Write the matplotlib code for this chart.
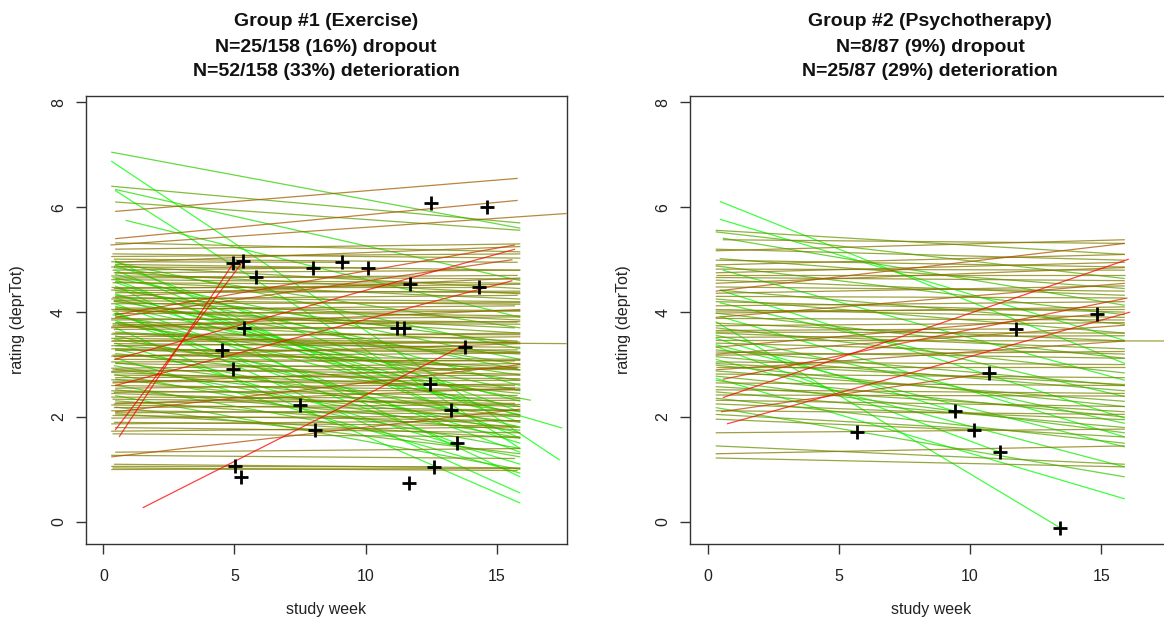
import numpy as np
import matplotlib
matplotlib.use("Agg")
import matplotlib.pyplot as plt

plt.rcParams['font.family'] = ['Liberation Sans', 'DejaVu Sans']

# ---------------- data: Group #1 (Exercise) ----------------
g1_title = ["Group #1 (Exercise)", "N=25/158 (16%) dropout", "N=52/158 (33%) deterioration"]
g1_start_week = [
    0.30, 0.30, 0.30, 0.45, 0.45, 0.45, 0.45, 0.85, 0.45, 0.27, 0.45, 0.45,
    1.50, 0.45, 0.60, 0.45, 0.45, 0.45, 0.45, 0.30, 0.45,
    0.45, 0.45, 0.40, 0.45, 0.45, 0.35, 0.45, 0.45, 0.50, 0.45, 0.45, 0.45, 0.40, 0.45, 0.45, 0.45,
    0.45, 0.35, 0.45, 0.45, 0.45, 0.55, 0.45, 0.45, 0.45, 0.40, 0.45, 0.45, 0.45, 0.45, 0.45, 0.45,
    0.40, 0.45, 0.45, 0.45, 0.45, 0.45, 0.45, 0.45, 0.45, 0.45, 0.45, 0.45, 0.45, 0.45,
    0.30, 0.35, 0.30, 0.40, 0.30, 0.45, 0.35, 0.30, 0.45, 0.30, 0.40, 0.30, 0.35, 0.45, 0.30, 0.40,
    0.30, 0.45, 0.35, 0.30, 0.40, 0.30, 0.45, 0.30, 0.35, 0.30, 0.45, 0.40, 0.30, 0.35, 0.30, 0.45,
    0.30, 0.40, 0.30, 0.35, 0.45, 0.30, 0.30, 0.40, 0.35, 0.30, 0.45, 0.30, 0.40, 0.30, 0.35, 0.45,
    0.30, 0.30, 0.40, 0.35, 0.30, 0.45, 0.30, 0.40, 0.30, 0.35, 0.45, 0.30, 0.40, 0.30, 0.35, 0.30,
    0.45, 0.30, 0.40, 0.35, 0.30, 0.45, 0.30, 0.40, 0.30, 0.35,
    0.45, 0.40, 0.35, 0.45, 0.30, 0.40, 0.45, 0.35, 0.30, 0.45,
    0.40, 0.35, 0.45, 0.30, 0.40, 0.45,
    0.30,
]
g1_start_val = [
    7.05, 6.88, 6.40, 6.34, 6.32, 6.10, 5.92, 5.75, 5.40, 5.28, 5.32, 5.20,
    0.27, 1.75, 1.62, 3.95, 3.90, 3.10, 2.60, 1.24, 2.10,
    4.95, 4.90, 4.85, 4.80, 4.72, 4.66, 4.57, 4.50, 4.46, 4.41, 4.33, 4.27, 4.21, 4.16, 4.11, 4.06,
    4.01, 3.95, 3.91, 3.84, 3.80, 3.76, 3.70, 3.62, 3.55, 3.49, 3.41, 3.36, 3.29, 3.21, 3.12, 3.04,
    2.98, 2.91, 2.81, 2.72, 2.61, 2.52, 2.41, 2.31, 2.19, 2.06, 4.62, 4.35, 4.98, 3.98,
    1.00, 1.03, 1.06, 1.10, 1.27, 1.33, 1.68, 1.73, 1.80, 1.87, 1.90, 1.98, 2.03, 2.08, 2.12, 2.18,
    2.23, 2.27, 2.34, 2.38, 2.47, 2.50, 2.55, 2.60, 2.67, 2.71, 2.75, 2.80, 2.87, 2.90, 2.93, 3.02,
    3.05, 3.10, 3.16, 3.18, 3.27, 3.30, 3.36, 3.40, 3.45, 3.50, 3.53, 3.58, 3.67, 3.72, 3.75, 3.80,
    3.85, 3.88, 3.97, 4.02, 4.05, 4.08, 4.16, 4.22, 4.25, 4.28, 4.37, 4.42, 4.45, 4.48, 4.56, 4.62,
    4.65, 4.69, 4.75, 4.80, 4.86, 4.91, 4.96, 5.01, 5.06, 5.11,
    4.58, 4.20, 3.78, 3.30, 2.85, 4.88, 4.05, 3.60, 2.45, 4.75,
    3.15, 2.65, 4.30, 3.70, 2.25, 4.95,
    3.45,
]
g1_end_week = [
    15.9, 17.4, 15.9, 15.9, 15.9, 15.9, 15.8, 15.9, 15.8, 17.66, 15.9, 15.9,
    13.8, 5.33, 4.95, 15.7, 15.6, 15.7, 15.6, 15.9, 15.9,
    15.9, 15.9, 15.9, 15.9, 15.9, 15.9, 15.9, 15.9, 15.9, 15.9, 15.9, 17.5, 15.9, 15.9, 15.9, 15.9,
    15.9, 15.9, 15.9, 15.9, 16.3, 15.9, 15.9, 15.9, 15.9, 15.9, 15.9, 15.9, 15.9, 15.9, 15.9, 15.9,
    15.9, 15.9, 15.9, 15.9, 15.9, 15.9, 15.9, 15.9, 15.9, 15.9, 13.25, 12.45, 8.07, 13.48,
    15.9, 15.8, 12.6, 15.9, 15.7, 15.9, 15.9, 15.8, 15.9, 15.9, 15.7, 15.9, 15.9, 15.8, 15.9, 15.9,
    15.9, 15.9, 15.7, 15.9, 15.9, 15.8, 15.9, 15.9, 15.9, 15.7, 15.9, 15.9, 15.8, 15.9, 15.9, 15.9,
    15.9, 15.7, 15.9, 15.9, 15.8, 15.9, 15.9, 15.9, 15.9, 15.8, 15.9, 15.9, 11.19, 11.46, 15.9, 15.9,
    15.9, 15.8, 15.9, 15.9, 15.7, 15.9, 15.9, 15.9, 15.8, 15.9, 15.9, 15.9, 15.9, 14.31, 11.69, 15.9,
    15.8, 15.9, 15.9, 7.99, 10.09, 15.9, 9.10, 15.8, 15.9, 15.9,
    15.9, 15.9, 15.8, 15.9, 15.9, 15.9, 15.7, 15.9, 15.9, 15.9,
    15.9, 15.8, 15.9, 15.9, 15.7, 15.9,
    17.66,
]
g1_end_val = [
    5.60, 1.18, 5.70, 4.60, 1.40, 5.56, 6.55, 3.90, 6.13, 5.88, 5.15, 5.30,
    3.38, 4.97, 4.93, 5.28, 5.00, 5.20, 4.60, 2.15, 3.00,
    3.30, 2.10, 3.70, 1.60, 2.60, 3.10, 1.90, 0.86, 2.90, 3.40, 2.30, 1.79, 3.00, 1.33, 2.50, 3.60,
    0.55, 2.04, 2.80, 1.50, 2.32, 2.70, 0.36, 3.24, 1.81, 2.20, 1.10, 2.90, 1.70, 2.45, 0.93, 2.10,
    1.60, 2.00, 1.40, 1.90, 1.24, 1.80, 1.00, 1.75, 1.30, 1.60, 2.13, 2.63, 3.20, 1.50,
    1.02, 0.98, 1.05, 1.03, 1.21, 1.40, 1.62, 1.81, 1.70, 1.93, 1.83, 2.02, 1.93, 2.13, 2.05, 2.24,
    2.13, 2.32, 2.26, 2.36, 2.52, 2.41, 2.63, 2.52, 2.70, 2.60, 2.80, 2.73, 2.93, 2.82, 3.02, 2.90,
    3.08, 3.07, 3.22, 3.10, 3.28, 3.23, 3.43, 3.33, 3.53, 3.42, 3.60, 3.57, 3.70, 3.70, 3.82, 3.77,
    3.91, 3.81, 4.02, 3.93, 4.12, 4.03, 4.18, 4.15, 4.32, 4.20, 4.40, 4.37, 4.53, 4.48, 4.53, 4.55,
    4.70, 4.63, 4.80, 4.84, 4.84, 4.80, 4.95, 4.95, 5.11, 5.03,
    4.25, 3.85, 3.45, 2.95, 2.55, 4.45, 3.70, 3.20, 2.20, 4.35,
    3.40, 2.95, 4.65, 4.05, 2.55, 5.25,
    3.40,
]
g1_drop_week = [12.49, 14.62, 4.95, 5.33, 5.82, 7.99, 9.10, 10.09, 11.69, 14.31, 5.37, 11.19, 11.46,
                13.78, 4.53, 4.95, 12.45, 7.50, 8.07, 13.25, 13.48, 5.02, 5.25, 12.60, 11.65]
g1_drop_val = [6.08, 6.00, 4.93, 4.97, 4.67, 4.84, 4.95, 4.84, 4.53, 4.48, 3.70, 3.70, 3.70,
               3.33, 3.28, 2.91, 2.63, 2.23, 1.75, 2.13, 1.50, 1.07, 0.86, 1.05, 0.74]

# ---------------- data: Group #2 (Psychotherapy) ----------------
g2_title = ["Group #2 (Psychotherapy)", "N=8/87 (9%) dropout", "N=25/87 (29%) deterioration"]
g2_start_week = [
    0.46, 0.46, 0.30, 0.30, 0.57, 0.57, 0.30, 0.30, 0.30, 0.45, 0.30, 0.30, 0.57, 0.30, 0.30, 0.30,
    0.30, 0.30, 0.45, 0.45, 0.30, 0.30, 0.30, 0.30, 0.45, 0.30, 0.30, 0.30, 0.30, 0.45, 0.30, 0.30,
    0.30, 0.30, 0.30, 0.30, 0.30, 0.30, 0.30, 0.30, 0.30, 0.30, 0.30, 0.30, 0.30, 0.30, 0.30, 0.30,
    0.30, 0.30, 0.30, 0.30, 0.30, 0.30, 0.30, 0.30, 0.30, 0.30, 0.30, 0.30, 0.30, 0.30, 0.30, 0.30,
    0.30, 0.30, 0.30, 0.30, 0.30, 0.30, 0.30,
    0.57, 0.73, 0.57, 0.50,
    0.30, 0.30, 0.30, 0.30, 0.30, 0.30, 0.30, 0.30, 0.30, 0.30, 0.30, 0.30,
]
g2_start_val = [
    6.11, 5.77, 5.56, 5.53, 5.41, 5.38, 5.17, 5.20, 4.99, 5.02, 4.90, 4.82, 4.80, 4.75, 4.66, 4.61,
    4.55, 4.48, 4.42, 4.42, 4.36, 4.30, 4.25, 4.20, 4.18, 4.12, 4.05, 3.98, 3.98, 3.92, 3.88, 3.82,
    3.79, 3.74, 3.70, 3.65, 3.60, 3.56, 3.52, 3.46, 3.41, 3.38, 3.33, 3.28, 3.24, 3.18, 3.15, 3.10,
    3.05, 2.99, 2.95, 2.88, 2.82, 2.74, 2.70, 2.65, 2.58, 2.52, 2.48, 2.42, 2.36, 2.32, 2.25, 2.18,
    2.12, 2.05, 1.96, 1.70, 1.45, 1.22, 1.30,
    2.37, 1.87, 2.72, 2.10,
    4.40, 3.90, 3.20, 2.90, 4.70, 4.02, 3.62, 3.02, 2.78, 4.88, 3.35, 3.50,
]
g2_end_week = [
    15.9, 15.9, 15.9, 15.9, 15.9, 15.9, 15.9, 15.9, 15.9, 15.9, 15.9, 15.9, 15.9, 15.9, 15.9, 15.9,
    15.9, 15.9, 15.9, 15.9, 15.9, 15.9, 15.9, 15.9, 15.9, 15.9, 15.9, 15.9, 15.9, 15.9, 15.9, 13.43,
    15.9, 15.9, 15.9, 11.75, 15.9, 15.9, 15.9, 17.6, 15.9, 15.9, 14.85, 15.9, 15.9, 15.9, 15.9, 15.9,
    15.9, 15.9, 15.9, 15.9, 15.9, 15.9, 15.9, 15.9, 15.9, 15.9, 15.9, 15.9, 15.9, 15.9, 15.9, 15.9,
    15.9, 15.9, 10.15, 15.9, 15.9, 15.9, 15.9,
    16.05, 16.10, 16.00, 10.72,
    15.9, 15.9, 15.9, 15.9, 15.9, 15.9, 15.9, 15.9, 15.9, 15.9, 11.14, 9.42,
]
g2_end_val = [
    3.02, 3.46, 5.10, 4.64, 4.13, 5.31, 5.38, 4.99, 4.86, 4.45, 5.10, 4.80, 2.70, 4.95, 4.60, 4.32,
    4.85, 4.40, 3.77, 1.98, 4.50, 4.27, 3.60, 4.00, 2.39, 4.20, 3.90, 3.12, 4.10, 1.62, 3.85, -0.11,
    3.45, 3.80, 2.84, 3.68, 3.30, 1.88, 3.55, 3.45, 3.20, 1.43, 3.96, 2.60, 3.12, 3.25, 2.50, 1.05,
    3.00, 2.20, 2.95, 2.30, 2.75, 0.44, 1.70, 2.60, 2.10, 2.45, 1.80, 2.40, 1.50, 2.20, 1.95, 0.86,
    2.05, 1.62, 1.75, 1.77, 1.10, 1.05, 1.45,
    5.01, 4.00, 4.27, 2.84,
    5.31, 4.55, 3.75, 3.45, 4.70, 4.05, 3.60, 2.62, 2.00, 3.95, 1.33, 2.11,
]
g2_drop_week = [14.85, 11.75, 10.72, 9.42, 10.15, 11.14, 5.70, 13.43]
g2_drop_val = [3.96, 3.68, 2.84, 2.11, 1.75, 1.33, 1.71, -0.11]

x_ticks = [0, 5, 10, 15]
y_ticks = [0, 2, 4, 6, 8]

# ---------------- figure ----------------
W, H = 1164, 621
fig = plt.figure(figsize=(W / 100, H / 100), dpi=100)


def add_ax(left_px, top_px, w_px, h_px):
    return fig.add_axes([left_px / W, 1 - (top_px + h_px) / H, w_px / W, h_px / H])


def slope_color(s):
    t = float(np.clip(0.5 + s / 0.3, 0, 1))
    return (t, 1 - t, 0.0)


def draw_panel(ax, xs, ys, xe, ye, dw, dv, title, cx):
    xs, ys, xe, ye = map(np.asarray, (xs, ys, xe, ye))
    order = np.argsort(ys, kind="stable")
    for i in order[::-1]:
        s = (ye[i] - ys[i]) / (xe[i] - xs[i])
        ax.plot([xs[i], xe[i]], [ys[i], ye[i]], color=slope_color(s), lw=0.9,
                alpha=0.75, solid_capstyle="butt", zorder=2)
    ax.plot(dw, dv, linestyle="none", marker="+", color="black", markersize=10,
            markeredgewidth=2.0, zorder=3)
    ax.set_xlim(-0.68, 17.68)
    ax.set_ylim(-0.42, 8.12)
    ax.set_xticks(x_ticks)
    ax.set_yticks(y_ticks)
    ax.set_xticklabels([str(v) for v in x_ticks])
    ax.set_yticklabels([str(v) for v in y_ticks], rotation=90, va="center")
    ax.tick_params(direction="out", length=7, width=1, color="#333333",
                   labelsize=11.5, labelcolor="#222222")
    ax.tick_params(axis="x", pad=11)
    ax.tick_params(axis="y", pad=7)
    for sp in ax.spines.values():
        sp.set_color("#333333")
        sp.set_linewidth(1.0)
    ax.set_xlabel("study week", fontsize=11.5, color="#222222")
    ax.set_ylabel("rating (deprTot)", fontsize=11.5, color="#222222")
    ax.xaxis.set_label_coords(0.5, -(602 - 544) / 448)
    for k, line in enumerate(title):
        fig.text(cx / W, 1 - (22 + 25 * k) / H, line, ha="center", va="center",
                 fontsize=14, fontweight="bold", color="#111111")


ax1 = add_ax(85.5, 96, 481.5, 448)
draw_panel(ax1, g1_start_week, g1_start_val, g1_end_week, g1_end_val,
           g1_drop_week, g1_drop_val, g1_title, 326)
ax1.yaxis.set_label_coords(-(85.5 - 25) / 481.5, 0.5)

ax2 = add_ax(690, 96, 481.5, 448)
draw_panel(ax2, g2_start_week, g2_start_val, g2_end_week, g2_end_val,
           g2_drop_week, g2_drop_val, g2_title, 930)
ax2.yaxis.set_label_coords(-(690 - 631) / 481.5, 0.5)

fig.savefig("out.png", dpi=100)
